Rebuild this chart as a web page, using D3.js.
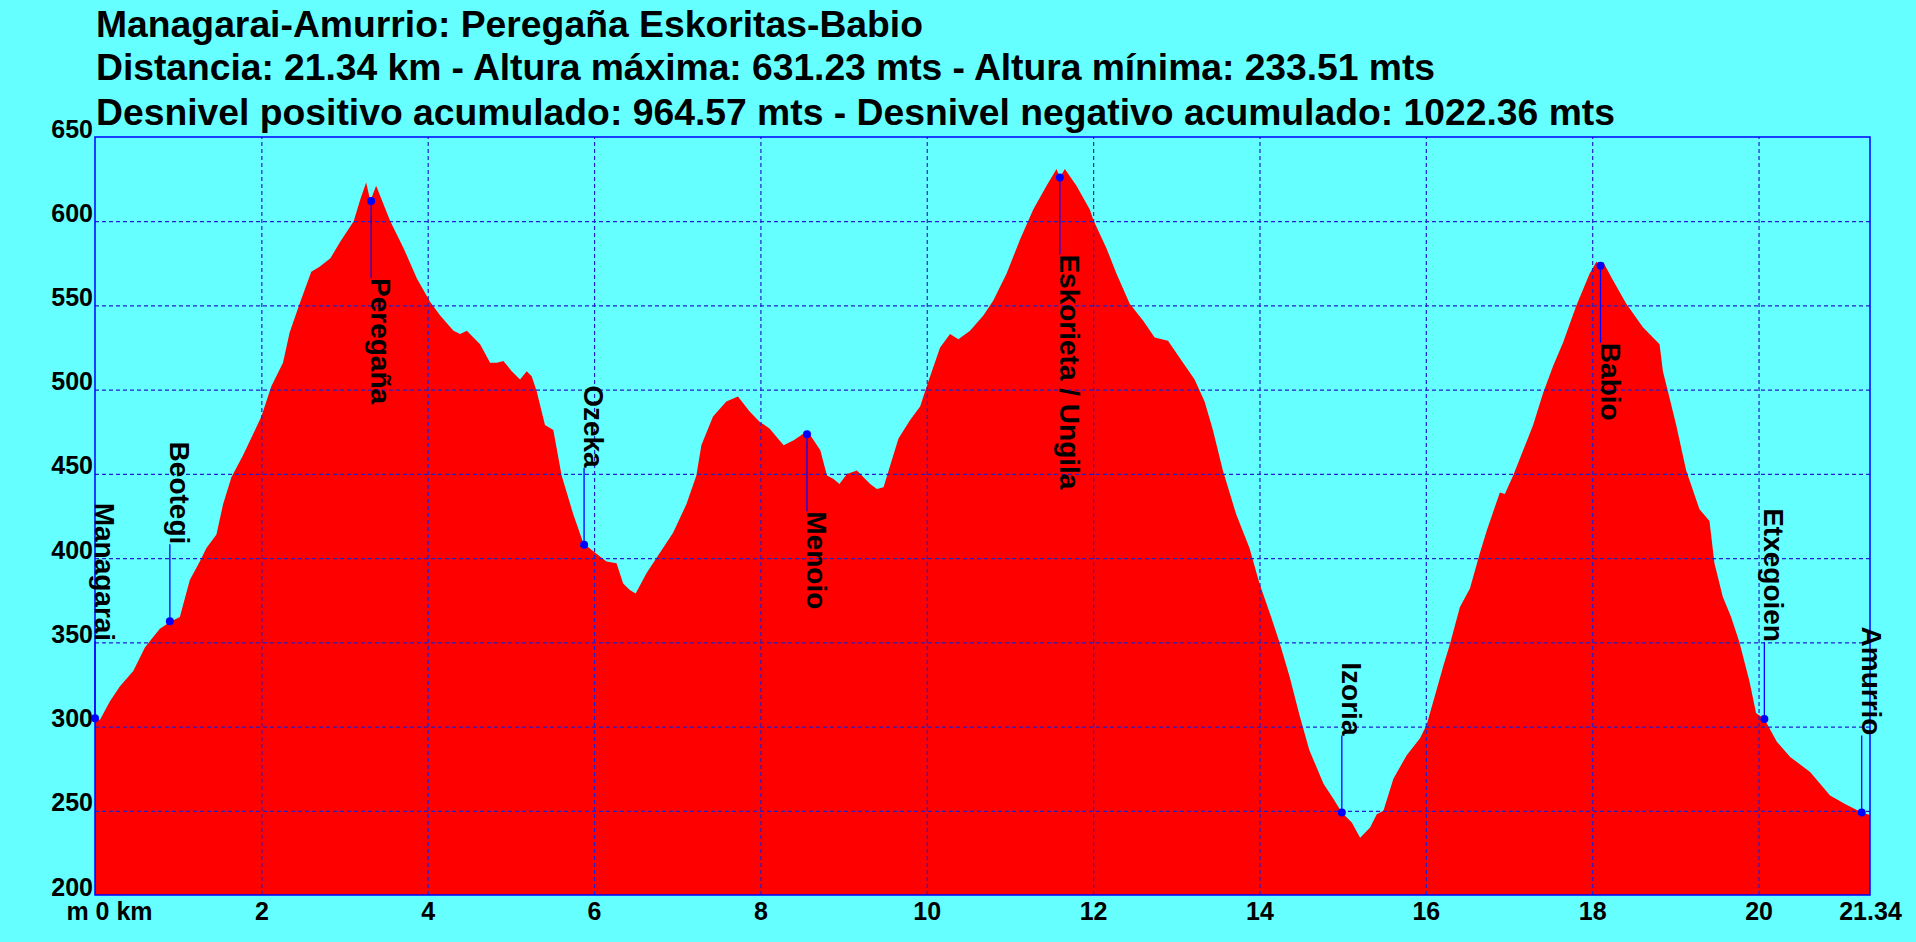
<!DOCTYPE html>
<html>
<head>
<meta charset="utf-8">
<script src="https://cdn.jsdelivr.net/npm/d3@7/dist/d3.min.js"></script>
<style>
  html, body { margin: 0; padding: 0; background: #66ffff; }
  svg { display: block; }
  text { font-family: "Liberation Sans", Arial, Helvetica, sans-serif; font-weight: bold; fill: #000; }
</style>
</head>
<body>
<svg id="chart" width="1916" height="942"></svg>
<script>
// ---- DATA ----
const titleLines = [
  "Managarai-Amurrio: Peregaña Eskoritas-Babio",
  "Distancia: 21.34 km - Altura máxima: 631.23 mts - Altura mínima: 233.51 mts",
  "Desnivel positivo acumulado: 964.57 mts - Desnivel negativo acumulado: 1022.36 mts"
];

const distKm = [
  0.00, 0.06, 0.18, 0.30, 0.46, 0.60, 0.68, 0.78, 0.90, 1.02, 1.14, 1.26, 1.34, 1.46, 1.54, 1.64, 1.78,
  2.00, 2.12, 2.26, 2.34, 2.46, 2.60, 2.70, 2.83, 2.95, 3.11, 3.19, 3.26, 3.31, 3.38, 3.55, 3.71, 3.87,
  4.03, 4.15, 4.31, 4.39, 4.47, 4.63, 4.75, 4.83, 4.91, 5.01, 5.11, 5.19, 5.25, 5.31, 5.41, 5.51, 5.61,
  5.75, 5.87, 5.99, 6.15, 6.27, 6.35, 6.43, 6.50, 6.63, 6.75, 6.95, 7.11, 7.23, 7.29, 7.43, 7.59, 7.73,
  7.87, 7.99, 8.11, 8.21, 8.28, 8.40, 8.52, 8.60, 8.72, 8.80, 8.88, 8.95, 9.04, 9.16, 9.26, 9.32, 9.40,
  9.48, 9.56, 9.66, 9.80, 9.92, 10.02, 10.16, 10.28, 10.38, 10.52, 10.68, 10.80, 10.96, 11.12, 11.28,
  11.44, 11.56, 11.60, 11.66, 11.80, 11.96, 12.00, 12.16, 12.28, 12.44, 12.60, 12.74, 12.90, 13.04,
  13.22, 13.34, 13.44, 13.56, 13.72, 13.88, 14.00, 14.14, 14.24, 14.36, 14.48, 14.60, 14.77, 14.89,
  14.99, 15.11, 15.21, 15.33, 15.41, 15.49, 15.61, 15.77, 15.93, 16.01, 16.09, 16.21, 16.29, 16.41,
  16.53, 16.65, 16.73, 16.89, 16.95, 17.05, 17.17, 17.29, 17.41, 17.53, 17.65, 17.81, 17.97, 18.05,
  18.10, 18.13, 18.25, 18.41, 18.61, 18.81, 18.85, 18.91, 19.01, 19.13, 19.29, 19.41, 19.47, 19.57,
  19.67, 19.77, 19.89, 19.97, 20.07, 20.22, 20.38, 20.62, 20.86, 21.04, 21.24, 21.34
];
const elevM = [
  305, 304, 315, 324, 333, 347, 352, 358, 362, 365, 387, 398, 406, 414, 432, 448, 461,
  484, 502, 516, 534, 551, 570, 573, 578, 588, 600, 613, 623, 612, 621, 600, 584, 566,
  552, 544, 535, 533, 535, 527, 516, 516, 517, 511, 506, 511, 508, 499, 479, 476, 449,
  426, 409, 404, 398, 397, 385, 381, 379, 391, 400, 415, 432, 449, 467, 484, 493, 496,
  487, 481, 477, 471, 467, 470, 474, 473, 464, 449, 447, 444, 450, 452, 447, 444, 441,
  442, 455, 471, 482, 490, 505, 525, 533, 530, 535, 544, 553, 569, 589, 607,
  621, 631, 626, 631, 621, 607, 601, 584, 569, 551, 541, 531, 529, 519,
  506, 493, 476, 452, 426, 406, 385, 365, 350, 330, 307, 286, 266, 257,
  249, 243, 234, 240, 248, 250, 269, 283, 293, 301, 315, 336, 349, 371,
  382, 403, 416, 439, 438, 449, 464, 479, 498, 514, 528, 550, 569, 576,
  574, 576, 565, 551, 537, 527, 511, 499, 479, 452, 429, 422, 397, 377,
  365, 350, 327, 308, 304.5, 291, 282, 273, 259, 254, 249, 247.5
];

const wpNames = ["Managarai", "Beotegi", "Peregaña", "Ozeka", "Menoio", "Eskorieta / Ungila",
                 "Izoria", "Babio", "Etxegoien", "Amurrio"];
const wpKm   = [0, 0.90, 3.32, 5.88, 8.56, 11.60, 14.99, 18.10, 20.07, 21.24];
const wpElev = [305, 362.5, 612, 408, 473.5, 626, 249, 573.5, 304.5, 249];

const xTicks = [0, 2, 4, 6, 8, 10, 12, 14, 16, 18, 20, 21.34];
const yTicks = [200, 250, 300, 350, 400, 450, 500, 550, 600, 650];
const xDomain = [0, 21.34];
const yDomain = [200, 650];

// ---- LAYOUT / STYLE ----
const W = 1916, H = 942;
const plot = { left: 95, right: 1870, top: 137, bottom: 895 };
const BG = "#66ffff", FILL = "#ff0000", BLUE = "#0000ff", GRID = "#2222cc";
const LABEL_GAP = 77;

const svg = d3.select("#chart");
svg.append("rect").attr("width", W).attr("height", H).attr("fill", BG);

const x = d3.scaleLinear().domain(xDomain).range([plot.left, plot.right]);
const y = d3.scaleLinear().domain(yDomain).range([plot.bottom, plot.top]);

const profile = distKm.map((d, i) => ({ km: d, m: elevM[i] }));

// area
const area = d3.area()
  .x(d => x(d.km))
  .y0(y(yDomain[0]))
  .y1(d => y(d.m));
svg.append("path").datum(profile).attr("d", area).attr("fill", FILL);

// grid (dashed)
const gx = svg.append("g").attr("transform", `translate(0,${plot.bottom})`)
  .call(d3.axisBottom(x).tickValues(xTicks.filter(t => t > 0 && t < xDomain[1]))
        .tickSize(-(plot.bottom - plot.top)).tickFormat(""));
gx.select(".domain").remove();
gx.selectAll(".tick line").attr("stroke", GRID).attr("stroke-width", 1.2).attr("stroke-dasharray", "4,3");

const gy = svg.append("g").attr("transform", `translate(${plot.left},0)`)
  .call(d3.axisLeft(y).tickValues(yTicks.filter(t => t > yDomain[0] && t < yDomain[1]))
        .tickSize(-(plot.right - plot.left)).tickFormat(""));
gy.select(".domain").remove();
gy.selectAll(".tick line").attr("stroke", GRID).attr("stroke-width", 1.2).attr("stroke-dasharray", "4,3");

// border
svg.append("rect")
  .attr("x", plot.left).attr("y", plot.top)
  .attr("width", plot.right - plot.left).attr("height", plot.bottom - plot.top)
  .attr("fill", "none").attr("stroke", BLUE).attr("stroke-width", 1.5);

// axis labels
const yAxis = svg.append("g").attr("transform", `translate(${plot.left - 2},0)`)
  .call(d3.axisLeft(y).tickValues(yTicks).tickSize(0).tickPadding(0).tickFormat(d3.format("d")));
yAxis.select(".domain").remove();
yAxis.selectAll("text").attr("dy", "0").attr("font-size", 25)
  .attr("font-family", '"Liberation Sans", Arial, sans-serif').attr("font-weight", "bold").attr("fill", "#000");

const xAxis = svg.append("g").attr("transform", `translate(0,${plot.bottom})`)
  .call(d3.axisBottom(x).tickValues(xTicks).tickSize(0).tickPadding(0)
        .tickFormat(d => d === 0 ? "m 0 km" : (Number.isInteger(d) ? String(d) : d.toFixed(2))));
xAxis.select(".domain").remove();
xAxis.selectAll("text").attr("dy", "0").attr("y", 25).attr("font-size", 25)
  .attr("font-family", '"Liberation Sans", Arial, sans-serif').attr("font-weight", "bold").attr("fill", "#000");
xAxis.selectAll(".tick").filter(d => d === 0).select("text").attr("dx", 14);

// waypoints
const mid = (yDomain[0] + yDomain[1]) / 2;
const wps = wpNames.map((n, i) => ({ name: n, km: wpKm[i], m: wpElev[i], below: wpElev[i] > mid }));

const wg = svg.append("g");
wg.selectAll("line").data(wps).join("line")
  .attr("x1", d => x(d.km)).attr("x2", d => x(d.km))
  .attr("y1", d => y(d.m))
  .attr("y2", d => d.below ? y(d.m) + LABEL_GAP : y(d.m) - LABEL_GAP)
  .attr("stroke", BLUE).attr("stroke-width", 1.3);
wg.selectAll("circle").data(wps).join("circle")
  .attr("cx", d => x(d.km)).attr("cy", d => y(d.m)).attr("r", 4).attr("fill", BLUE);
wg.selectAll("text").data(wps).join("text")
  .attr("transform", d => {
    const ty = d.below ? y(d.m) + LABEL_GAP : y(d.m) - LABEL_GAP;
    return `translate(${x(d.km)},${ty}) rotate(90)`;
  })
  .attr("text-anchor", d => d.below ? "start" : "end")
  .attr("font-size", 28)
  .text(d => d.name);

// titles
const titleBase = [37, 80, 125];
const titleEnd = [923, 1435, 1615];
const titleX = 96;
svg.append("g").selectAll("text").data(titleLines).join("text")
  .attr("x", titleX).attr("y", (d, i) => titleBase[i])
  .attr("font-size", 37.3)
  .attr("textLength", (d, i) => titleEnd[i] - titleX)
  .text(d => d);
</script>
</body>
</html>
